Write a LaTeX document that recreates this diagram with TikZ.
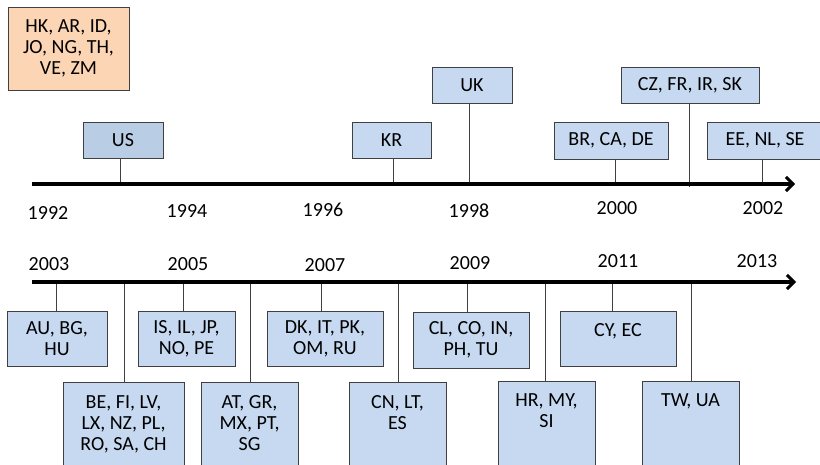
\documentclass[tikz,border=0pt]{standalone}
\usepackage{fontspec}
\setmainfont{Carlito}
\usetikzlibrary{arrows.meta,calc}
\definecolor{boxblue}{HTML}{C6D9F1}
\definecolor{boxblued}{HTML}{B9CDE5}
\definecolor{boxorange}{HTML}{FCD5B5}
\definecolor{edge}{HTML}{404040}
\begin{document}
\begin{tikzpicture}[x=1pt,y=-1pt,
  every node/.style={font=\fontsize{20}{21}\selectfont},
  cbox/.style={draw=edge,line width=0.9pt,fill=boxblue,inner sep=0pt,align=center},
  txt/.style={inner sep=0pt,align=center,anchor=north},
  yr/.style={inner sep=0pt},
  stem/.style={draw=edge,line width=0.9pt},
  axis/.style={line width=4pt,-{Straight Barb[length=7pt,width=14pt,line width=3pt]}}]
\useasboundingbox (0,0) rectangle (820,464);
\clip (0,0) rectangle (820,464);
% axes
\coordinate (a1s) at (32,184);
\coordinate (a1e) at (795,184);
\coordinate (a2s) at (32,282);
\coordinate (a2e) at (796,282);
% orange box
\node[cbox,fill=boxorange,minimum width=121pt,minimum height=83pt] (hk) at (68.5,48.5) {HK, AR, ID,\\JO, NG, TH,\\VE, ZM};
% top boxes
\node[cbox,fill=boxblued,minimum width=80pt,minimum height=36pt] (us) at (123,140) {US};
\node[cbox,minimum width=79pt,minimum height=36pt] (kr) at (391.5,140) {KR};
\node[cbox,minimum width=80pt,minimum height=36pt] (uk) at (472,85) {UK};
\node[cbox,minimum width=114pt,minimum height=37pt] (br) at (611,140.5) {BR, CA, DE};
\node[cbox,minimum width=138pt,minimum height=36pt] (cz) at (690,85) {CZ, FR, IR, SK};
\node[cbox,minimum width=116pt,minimum height=37pt] (ee) at (765,140.5) {EE, NL, SE};
% tick coordinates top
\coordinate (tus) at (120,186);
\coordinate (tkr) at (393,184);
\coordinate (tuk) at (469,184);
\coordinate (tbr) at (615,184);
\coordinate (tcz) at (689,187);
\coordinate (tee) at (762,184);
\draw[stem] (tus |- us.south) -- (tus);
\draw[stem] (tkr |- kr.south) -- (tkr);
\draw[stem] (tuk |- uk.south) -- (tuk);
\draw[stem] (tbr |- br.south) -- (tbr);
\draw[stem] (tcz |- cz.south) -- (tcz);
\draw[stem] (tee |- ee.south) -- (tee);
\draw[axis] (a1s) -- (a1e);
% top years
\node[yr] (y92) at (48,213) {1992};
\node[yr] (y94) at (187,211) {1994};
\node[yr] (y96) at (323,210) {1996};
\node[yr] (y98) at (469,211) {1998};
\node[yr] (y00) at (617,208) {2000};
\node[yr] (y02) at (763,208) {2002};
% bottom years
\node[yr] (y03) at (49,264) {2003};
\node[yr] (y05) at (188,264) {2005};
\node[yr] (y07) at (325,265) {2007};
\node[yr] (y09) at (470,263) {2009};
\node[yr] (y11) at (618,261) {2011};
\node[yr] (y13) at (757,261) {2013};
% bottom row 1
\node[cbox,minimum width=100pt,minimum height=55pt] (au) at (57,338.5) {AU, BG,\\HU};
\node[cbox,minimum width=97pt,minimum height=55pt] (is) at (186.5,338.5) {IS, IL, JP,\\NO, PE};
\node[cbox,minimum width=116pt,minimum height=55pt] (dk) at (325,338.5) {DK, IT, PK,\\OM, RU};
\node[cbox,minimum width=116pt,minimum height=56pt] (cl) at (471,340) {CL, CO, IN,\\PH, TU};
\node[cbox,minimum width=116pt,minimum height=55pt] (cy) at (618,338.5) {};
\node[txt] (cyt) at ($(cy.north)+(0,13)$) {CY, EC};
% bottom row 2
\node[cbox,minimum width=121pt,minimum height=90pt] (be) at (123.5,427) {};
\node[txt] (bet) at ($(be.north)+(0,14)$) {BE, FI, LV,\\LX, NZ, PL,\\RO, SA, CH};
\node[cbox,minimum width=97pt,minimum height=90pt] (at) at (249.5,427) {};
\node[txt] (att) at ($(at.north)+(0,14)$) {AT, GR,\\MX, PT,\\SG};
\node[cbox,minimum width=97pt,minimum height=90pt] (cn) at (397.5,427) {};
\node[txt] (cnt) at ($(cn.north)+(0,14)$) {CN, LT,\\ES};
\node[cbox,minimum width=97pt,minimum height=90pt] (hr) at (546.5,426) {};
\node[txt] (hrt) at ($(hr.north)+(0,13)$) {HR, MY,\\SI};
\node[cbox,minimum width=97pt,minimum height=90pt] (tw) at (690.5,426) {};
\node[txt] (twt) at ($(tw.north)+(0,13)$) {TW, UA};
% tick coordinates bottom
\coordinate (bau) at (56,282);
\coordinate (bbe) at (124,282);
\coordinate (bis) at (183,282);
\coordinate (bat) at (250,282);
\coordinate (bdk) at (321,282);
\coordinate (bcn) at (398,282);
\coordinate (bcl) at (467,282);
\coordinate (bhr) at (545,282);
\coordinate (bcy) at (612,282);
\coordinate (btw) at (691,282);
\draw[stem] (bau) -- (bau |- au.north);
\draw[stem] (bbe) -- (bbe |- be.north);
\draw[stem] (bis) -- (bis |- is.north);
\draw[stem] (bat) -- (bat |- at.north);
\draw[stem] (bdk) -- (bdk |- dk.north);
\draw[stem] (bcn) -- (bcn |- cn.north);
\draw[stem] (bcl) -- (bcl |- cl.north);
\draw[stem] (bhr) -- (bhr |- hr.north);
\draw[stem] (bcy) -- (bcy |- cy.north);
\draw[stem] (btw) -- (btw |- tw.north);
\draw[axis] (a2s) -- (a2e);
\end{tikzpicture}
\end{document}
